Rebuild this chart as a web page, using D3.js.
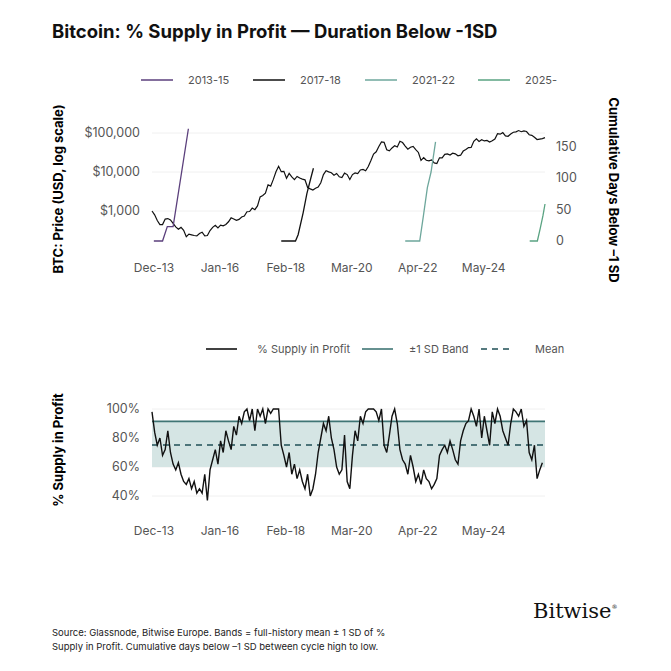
<html>
<head>
<meta charset="UTF-8">
<script src="https://d3js.org/d3.v7.min.js"></script>
<style>
body { margin: 0; background: #fff; font-family: 'Inter', 'Liberation Sans', sans-serif; }
</style>
</head>
<body>
<script>
// month index 0 = Dec 2013
var tickMonths = [0, 25, 50, 75, 100, 125];
var tickLabels = ["Dec-13", "Jan-16", "Feb-18", "Mar-20", "Apr-22", "May-24"];

var btcPrice = [1000,
  800,570,450,450,620,640,590,480,390,340,380,320,
  220,255,245,235,230,265,285,230,235,315,380,430,
  370,435,415,450,530,670,625,575,610,700,740,960,
  970,1190,1080,1350,2300,2500,2870,4700,4340,6470,10200,14000,
  10200,10400,6900,9200,7500,6400,7700,7000,6600,6300,4000,3700,
  3450,3850,4100,5300,8600,10800,10100,9600,8300,9200,7550,7200,
  9350,8600,6400,8600,9500,9150,11300,11650,10780,13800,19700,29000,
  33100,45200,58900,57700,37300,35000,41500,47100,43800,61300,57000,46300,
  38500,43200,45500,37700,31800,19900,23300,20000,19400,20500,17200,16500,
  23100,23100,28400,29200,27200,30400,29200,26000,27000,34500,37700,42300,
  42600,61200,71300,60600,67500,62700,64600,59000,63300,70200,96400,93400,
  102400,84400,82500,94200,104600,107100,115800,108200,114000,109500,90400,87500,
  78000,68000,70000,72000,76000];

// [month index, cumulative days below -1 SD]
var days2013 = [[0.7,0],[4,0],[5.8,23],[8,23],[13.8,179]];
var days2017 = [[49,0],[54.4,0],[55.4,10],[57.3,45],[58.7,75],[60.2,100],[61.2,116]];
var days2021 = [[96,0],[101.5,0],[102.9,40],[104.4,85],[105.8,110],[107.5,158]];
var days2025 = [[143.2,0],[146.1,0],[147.2,20],[148.2,40],[149,59]];

var supplyProfit = [98,84,75,80,68,72,85,70,62,58,63,55,50,48,52,45,50,42,45,42,55,37,58,65,
  72,62,78,70,85,78,72,88,82,95,90,98,100,92,100,85,100,95,100,90,100,97,100,100,
  100,75,68,60,70,55,62,52,58,50,45,55,40,45,55,70,80,90,85,95,80,72,60,55,
  58,82,50,45,68,85,78,95,90,98,100,100,100,98,92,100,75,70,82,95,100,90,72,65,
  62,55,68,60,50,55,48,58,52,50,45,48,52,68,72,75,70,78,72,65,62,78,85,90,
  92,100,95,88,100,80,95,85,75,98,90,100,95,85,80,75,90,100,98,95,100,88,92,70,
  65,75,52,58,63];
var sdBand = [60, 91.5];
var sdMean = 75.2;

var priceTicks = [1000, 10000, 100000];
var dayTicks = [0, 50, 100, 150];
var pctTicks = [40, 60, 80, 100];

var W = 671, H = 671;
var svg = d3.select("body").append("svg").attr("width", W).attr("height", H);
var grey = "#555";

svg.append("text").attr("x", 52).attr("y", 38)
  .style("font-size", "18.5px").style("font-weight", "bold").attr("fill", "#111")
  .text("Bitcoin: % Supply in Profit \u2014 Duration Below -1SD");

var x = d3.scaleLinear().domain([0, 149]).range([152, 545]);

function xAxis(y0) {
  svg.append("g").selectAll("text").data(tickMonths).join("text")
    .attr("x", function(d) { return x(d) + 2; }).attr("y", y0)
    .attr("text-anchor", "middle").style("font-size", "12px").attr("fill", grey)
    .text(function(d, i) { return tickLabels[i]; });
}

// ---------- top chart
var yP = d3.scaleLog().domain([100, 200000]).range([250, 121.3]);
var yD = d3.scaleLinear().domain([0, 180]).range([241, 128.1]);

svg.append("g").selectAll("line").data(priceTicks).join("line")
  .attr("x1", 152).attr("x2", 545).attr("y1", yP).attr("y2", yP)
  .attr("stroke", "#f0f0f0");
svg.append("g").selectAll("text").data(priceTicks).join("text")
  .attr("x", 140).attr("y", function(d) { return yP(d) + 4; })
  .attr("text-anchor", "end").style("font-size", "12.5px").attr("fill", grey)
  .text(function(d) { return "$" + d3.format(",")(d); });
svg.append("g").selectAll("text").data(dayTicks).join("text")
  .attr("x", 556).attr("y", function(d) { return yD(d) + 4; })
  .style("font-size", "12.5px").attr("fill", grey).text(function(d) { return d; });
xAxis(272);

svg.append("text").attr("transform", "translate(63,189) rotate(-90)")
  .attr("text-anchor", "middle").style("font-size", "13px").style("font-weight", "bold")
  .text("BTC: Price (USD, log scale)");
svg.append("text").attr("transform", "translate(609,190) rotate(90)")
  .attr("text-anchor", "middle").style("font-size", "13px").style("font-weight", "bold")
  .text("Cumulative Days Below \u20131 SD");

svg.append("path").datum(btcPrice).attr("fill", "none").attr("stroke", "#111")
  .attr("stroke-width", 1.2)
  .attr("d", d3.line().x(function(d, i) { return x(i); }).y(function(d) { return yP(d); }));

var cycles = [
  {name: "2013-15", data: days2013, color: "#5b3f7c"},
  {name: "2017-18", data: days2017, color: "#111"},
  {name: "2021-22", data: days2021, color: "#6ea79c"},
  {name: "2025-", data: days2025, color: "#5aa382"}
];
var dayLine = d3.line().x(function(d) { return x(d[0]); }).y(function(d) { return yD(d[1]); });
cycles.forEach(function(c) {
  svg.append("path").datum(c.data).attr("fill", "none").attr("stroke", c.color)
    .attr("stroke-width", 1.3).attr("d", dayLine);
});

var legX = [141, 253, 365, 478];
cycles.forEach(function(c, i) {
  svg.append("line").attr("x1", legX[i]).attr("x2", legX[i] + 32).attr("y1", 80).attr("y2", 80)
    .attr("stroke", c.color).attr("stroke-width", 1.5);
  svg.append("text").attr("x", legX[i] + 47).attr("y", 84).style("font-size", "11px")
    .attr("fill", grey).text(c.name);
});

// ---------- bottom chart
var yS = d3.scaleLinear().domain([40, 100]).range([496, 409]);

svg.append("g").selectAll("line").data(pctTicks).join("line")
  .attr("x1", 152).attr("x2", 545).attr("y1", yS).attr("y2", yS).attr("stroke", "#f0f0f0");
svg.append("rect").attr("x", 152).attr("width", 393)
  .attr("y", yS(sdBand[1])).attr("height", yS(sdBand[0]) - yS(sdBand[1]))
  .attr("fill", "#d5e5e4");
svg.append("line").attr("x1", 152).attr("x2", 545).attr("y1", yS(sdBand[1])).attr("y2", yS(sdBand[1]))
  .attr("stroke", "#3f7574").attr("stroke-width", 1.6);
svg.append("line").attr("x1", 152).attr("x2", 545).attr("y1", yS(sdMean)).attr("y2", yS(sdMean))
  .attr("stroke", "#1f4f55").attr("stroke-width", 1.5).attr("stroke-dasharray", "6,5");

svg.append("path").datum(supplyProfit).attr("fill", "none").attr("stroke", "#111")
  .attr("stroke-width", 1.4)
  .attr("d", d3.line().x(function(d, i) { return x(i); }).y(function(d) { return yS(d); }));

svg.append("g").selectAll("text").data(pctTicks).join("text")
  .attr("x", 140).attr("y", function(d) { return yS(d) + 4; })
  .attr("text-anchor", "end").style("font-size", "12.5px").attr("fill", grey)
  .text(function(d) { return d + "%"; });
xAxis(535);
svg.append("text").attr("transform", "translate(63,450) rotate(-90)")
  .attr("text-anchor", "middle").style("font-size", "13px").style("font-weight", "bold")
  .text("% Supply in Profit");

var leg2 = [
  {x: 206, tx: 257, label: "% Supply in Profit", color: "#111", dash: null},
  {x: 362, tx: 409, label: "\u00b11 SD Band", color: "#3f7574", dash: null},
  {x: 481, tx: 535, label: "Mean", color: "#1f4f55", dash: "6,5"}
];
leg2.forEach(function(l) {
  svg.append("line").attr("x1", l.x).attr("x2", l.x + 31).attr("y1", 349).attr("y2", 349)
    .attr("stroke", l.color).attr("stroke-width", 1.6).attr("stroke-dasharray", l.dash);
  svg.append("text").attr("x", l.tx).attr("y", 353).style("font-size", "11px")
    .attr("fill", grey).text(l.label);
});

// ---------- footer
svg.append("text").attr("x", 533).attr("y", 618).style("font-family", "'DejaVu Serif', serif")
  .style("font-size", "21px").attr("fill", "#111").text("Bitwise")
  .append("tspan").attr("dy", -9).style("font-size", "6px").text("\u00ae");
svg.append("text").attr("x", 52).attr("y", 636).style("font-size", "9.5px").attr("fill", "#222")
  .text("Source: Glassnode, Bitwise Europe. Bands = full-history mean \u00b1 1 SD of %");
svg.append("text").attr("x", 52).attr("y", 650).style("font-size", "9.5px").attr("fill", "#222")
  .text("Supply in Profit. Cumulative days below \u20131 SD between cycle high to low.");
</script>
</body>
</html>
